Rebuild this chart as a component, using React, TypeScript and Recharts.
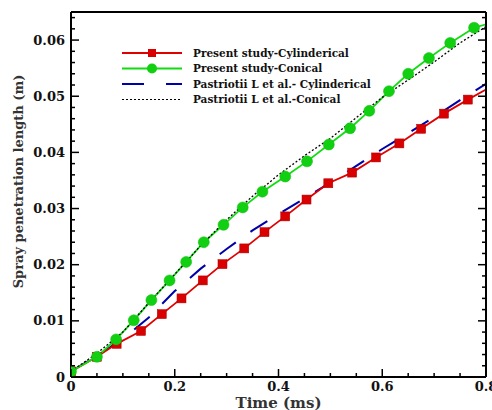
import { LineChart, Line, XAxis, YAxis, Legend } from "recharts";

const presentCylT = [0, 0.05, 0.088, 0.135, 0.175, 0.213, 0.254, 0.292, 0.334, 0.373, 0.413, 0.454, 0.496, 0.542, 0.588, 0.633, 0.675, 0.719, 0.765, 0.8];
const presentCylL = [0.001, 0.0036, 0.0059, 0.0082, 0.0112, 0.014, 0.0172, 0.0201, 0.0229, 0.0258, 0.0286, 0.0316, 0.0345, 0.0364, 0.0391, 0.0416, 0.0442, 0.0469, 0.0494, 0.0512];

const presentConT = [0, 0.05, 0.087, 0.121, 0.155, 0.19, 0.222, 0.256, 0.294, 0.331, 0.369, 0.413, 0.455, 0.497, 0.538, 0.575, 0.613, 0.65, 0.69, 0.731, 0.777, 0.8];
const presentConL = [0.001, 0.0036, 0.0067, 0.0101, 0.0137, 0.0172, 0.0205, 0.024, 0.0271, 0.0302, 0.033, 0.0357, 0.0384, 0.0414, 0.0443, 0.0474, 0.0509, 0.054, 0.0568, 0.0595, 0.0622, 0.0628];

const pastriotiiT = [0, 0.05, 0.1, 0.15, 0.2, 0.25, 0.3, 0.35, 0.4, 0.45, 0.5, 0.55, 0.6, 0.65, 0.7, 0.75, 0.8];
const pastriotiiCylL = [0.001, 0.0038, 0.0068, 0.0106, 0.0153, 0.0193, 0.0228, 0.0261, 0.029, 0.0318, 0.0346, 0.0376, 0.0406, 0.0434, 0.0463, 0.0493, 0.0522];
const pastriotiiConL = [0.001, 0.0042, 0.008, 0.0132, 0.0183, 0.0234, 0.028, 0.0322, 0.036, 0.0394, 0.0425, 0.0462, 0.0498, 0.0529, 0.0561, 0.0595, 0.0624];

const xTicks = [0, 0.05, 0.1, 0.15, 0.2, 0.25, 0.3, 0.35, 0.4, 0.45, 0.5, 0.55, 0.6, 0.65, 0.7, 0.75, 0.8];
const xLabels = [0, 0.2, 0.4, 0.6, 0.8];
const yTicks = [
  0, 0.002, 0.004, 0.006, 0.008, 0.01, 0.012, 0.014, 0.016, 0.018, 0.02, 0.022, 0.024, 0.026, 0.028, 0.03, 0.032,
  0.034, 0.036, 0.038, 0.04, 0.042, 0.044, 0.046, 0.048, 0.05, 0.052, 0.054, 0.056, 0.058, 0.06, 0.062, 0.064,
];
const yLabels = [0, 0.01, 0.02, 0.03, 0.04, 0.05, 0.06];

const seriesNames = [
  "Present study-Cylinderical",
  "Present study-Conical",
  "Pastriotii L et al.- Cylinderical",
  "Pastriotii L et al.-Conical",
];

const RED = "#e00000";
const GREEN = "#10dd10";
const BLUE = "#0000a8";
const FONT = "'DejaVu Serif', serif";

const toPoints = (t: number[], l: number[]) => t.map((x, i) => ({ t: x, len: l[i] }));

const isLabel = (v: number, list: number[]) => list.some((m) => Math.abs(m - v) < 1e-9);
const fmt = (v: number) => (v === 0 ? "0" : v < 0.1 ? v.toFixed(2) : v.toFixed(1));

const MARGIN = 5;

function BottomTick(props: any) {
  const { x, y, payload } = props;
  const major = isLabel(payload.value, xLabels);
  const base = y - MARGIN;
  return (
    <g>
      <line x1={x} x2={x} y1={base} y2={base - (major ? 8 : 4)} stroke="#000" strokeWidth={1.5} />
      {major && (
        <text x={x} y={base + 14} textAnchor="middle" fontFamily={FONT} fontWeight="bold" fontSize={13} fill="#111">
          {fmt(payload.value)}
        </text>
      )}
    </g>
  );
}

function TopTick(props: any) {
  const { x, y, payload } = props;
  const major = isLabel(payload.value, xLabels);
  return <line x1={x} x2={x} y1={y} y2={y + (major ? 8 : 4)} stroke="#000" strokeWidth={1.5} />;
}

function LeftTick(props: any) {
  const { x, y, payload } = props;
  const major = isLabel(payload.value, yLabels);
  const base = x + MARGIN;
  return (
    <g>
      <line x1={base} x2={base + (major ? 8 : 4)} y1={y} y2={y} stroke="#000" strokeWidth={1.5} />
      {major && (
        <text x={x - 1} y={y} dy="0.35em" textAnchor="end" fontFamily={FONT} fontWeight="bold" fontSize={13} fill="#111">
          {fmt(payload.value)}
        </text>
      )}
    </g>
  );
}

function RightTick(props: any) {
  const { x, y, payload } = props;
  const major = isLabel(payload.value, yLabels);
  return <line x1={x} x2={x - (major ? 8 : 4)} y1={y} y2={y} stroke="#000" strokeWidth={1.5} />;
}

function RedSquare(props: any) {
  const { cx, cy, index } = props;
  if (index === presentCylT.length - 1 || cx == null) return <g key={`r${index}`} />;
  return <rect key={`r${index}`} x={cx - 4.5} y={cy - 4.5} width={9} height={9} fill="#d80000" stroke="#b00000" strokeWidth={0.5} />;
}

function GreenCircle(props: any) {
  const { cx, cy, index } = props;
  if (index === presentConT.length - 1 || cx == null) return <g key={`g${index}`} />;
  return <circle key={`g${index}`} cx={cx} cy={cy} r={5.5} fill="#11d011" stroke="#0cbc0c" strokeWidth={0.5} />;
}

function LegendBox() {
  const rows = [
    { color: RED, dash: undefined, width: 2, marker: "square" },
    { color: GREEN, dash: undefined, width: 2, marker: "circle" },
    { color: BLUE, dash: "22 22", width: 2, marker: "" },
    { color: "#000", dash: "2 2", width: 1.2, marker: "" },
  ];
  return (
    <svg width={260} height={62} style={{ display: "block" }}>
      {rows.map((r, i) => {
        const cy = 8 + i * 15.5;
        return (
          <g key={i}>
            <line x1={4} x2={64} y1={cy} y2={cy} stroke={r.color} strokeWidth={r.width} strokeDasharray={r.dash} />
            {r.marker === "square" && <rect x={30} y={cy - 4} width={8} height={8} fill="#d80000" />}
            {r.marker === "circle" && <circle cx={34} cy={cy} r={5} fill="#11d011" />}
            <text x={75} y={cy} dy="0.35em" fontFamily={FONT} fontWeight="bold" fontSize={10.5} fill="#111">
              {seriesNames[i]}
            </text>
          </g>
        );
      })}
    </svg>
  );
}

function YLabel(props: any) {
  const { viewBox } = props;
  const cx = viewBox.x + 18;
  const cy = viewBox.y + viewBox.height / 2 - 13;
  return (
    <text
      x={cx}
      y={cy}
      transform={`rotate(-90, ${cx}, ${cy})`}
      textAnchor="middle"
      dy="0.35em"
      fontFamily={FONT}
      fontWeight="bold"
      fontSize={13}
      fill="#333"
    >
      Spray penetration length (m)
    </text>
  );
}

export default function App() {
  return (
    <div style={{ position: "absolute", left: 0, top: 0, width: 492, height: 410, background: "#fff" }}>
      <LineChart width={492} height={410} margin={{ top: 11, right: 5, bottom: 0, left: 0 }}>
        <XAxis
          xAxisId={0}
          dataKey="t"
          type="number"
          domain={[0, 0.8]}
          allowDataOverflow
          ticks={xTicks}
          interval={0}
          height={33}
          tickSize={0}
          tickMargin={MARGIN}
          tickLine={false}
          tick={<BottomTick />}
          axisLine={{ stroke: "#000", strokeWidth: 2 }}
          label={{ value: "Time (ms)", position: "insideBottom", offset: 2, fontFamily: FONT, fontWeight: "bold", fontSize: 15, fill: "#333" }}
        />
        <XAxis
          xAxisId="top"
          orientation="top"
          type="number"
          domain={[0, 0.8]}
          allowDataOverflow
          ticks={xTicks}
          interval={0}
          height={1}
          tickSize={0}
          tickMargin={0}
          tickLine={false}
          tick={<TopTick />}
          axisLine={{ stroke: "#000", strokeWidth: 2 }}
        />
        <YAxis
          yAxisId={0}
          type="number"
          domain={[0, 0.065]}
          allowDataOverflow
          ticks={yTicks}
          interval={0}
          width={71}
          tickSize={0}
          tickMargin={MARGIN}
          tickLine={false}
          tick={<LeftTick />}
          axisLine={{ stroke: "#000", strokeWidth: 2 }}
          label={<YLabel />}
        />
        <YAxis
          yAxisId="right"
          orientation="right"
          type="number"
          domain={[0, 0.065]}
          allowDataOverflow
          ticks={yTicks}
          interval={0}
          width={1}
          tickSize={0}
          tickMargin={0}
          tickLine={false}
          tick={<RightTick />}
          axisLine={{ stroke: "#000", strokeWidth: 2 }}
        />
        <Legend
          content={<LegendBox />}
          layout="vertical"
          verticalAlign="middle"
          align="center"
          wrapperStyle={{ position: "absolute", left: 118, top: 45, width: 260 }}
        />
        <Line
          data={toPoints(pastriotiiT, pastriotiiCylL)}
          dataKey="len"
          name={seriesNames[2]}
          stroke={BLUE}
          strokeWidth={2}
          strokeDasharray="20 18"
          dot={false}
          isAnimationActive={false}
        />
        <Line
          data={toPoints(presentCylT, presentCylL)}
          dataKey="len"
          name={seriesNames[0]}
          stroke={RED}
          strokeWidth={1.8}
          dot={<RedSquare />}
          isAnimationActive={false}
        />
        <Line
          data={toPoints(presentConT, presentConL)}
          dataKey="len"
          name={seriesNames[1]}
          stroke={GREEN}
          strokeWidth={1.8}
          dot={<GreenCircle />}
          isAnimationActive={false}
        />
        <Line
          data={toPoints(pastriotiiT, pastriotiiConL)}
          dataKey="len"
          name={seriesNames[3]}
          stroke="#000"
          strokeWidth={1.3}
          strokeDasharray="2 2"
          dot={false}
          isAnimationActive={false}
        />
      </LineChart>
    </div>
  );
}
